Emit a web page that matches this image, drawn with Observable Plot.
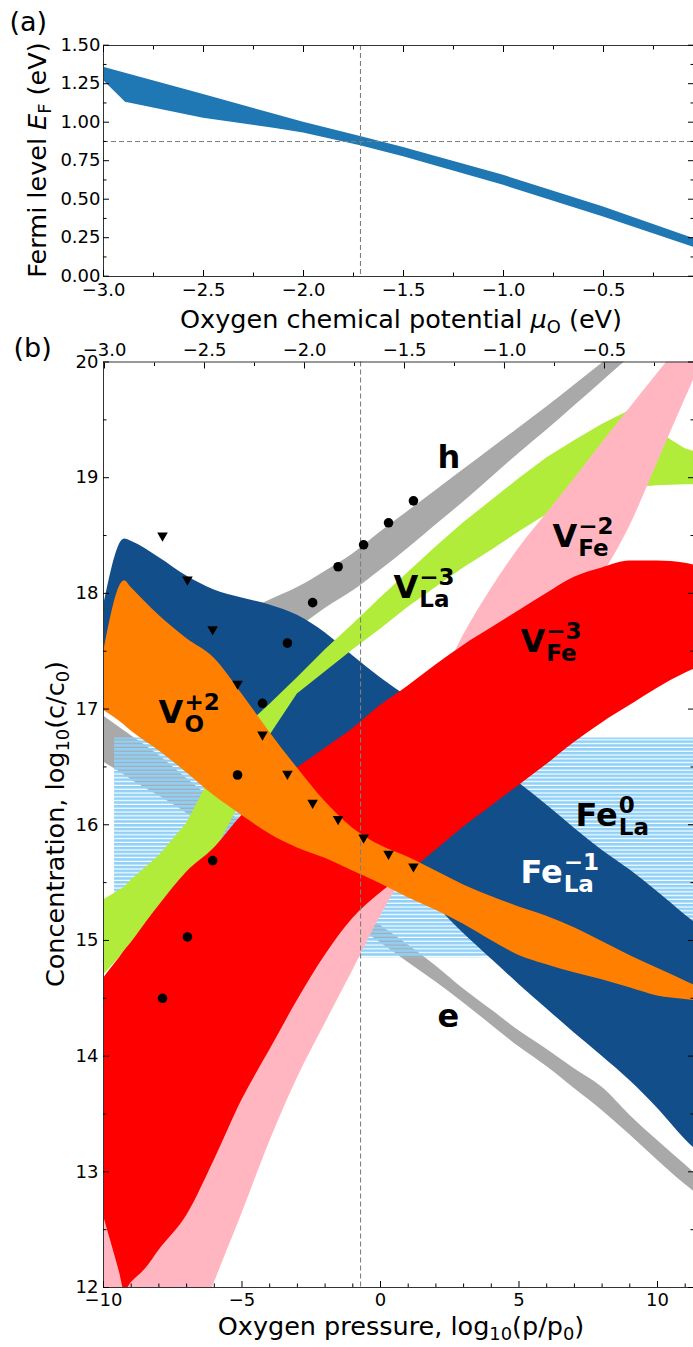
<!DOCTYPE html>
<html>
<head>
<meta charset="utf-8">
<script src="https://cdn.jsdelivr.net/npm/d3@7"></script>
<script src="https://cdn.jsdelivr.net/npm/@observablehq/plot@0.6"></script>
<style>
html,body{margin:0;padding:0;background:#fff;}
#page{position:relative;width:693px;height:1347px;overflow:hidden;background:#fff;}
#page svg{position:absolute;left:0;overflow:visible;}
</style>
</head>
<body>
<div id="page"></div>
<script>
// ---------------- Panel (a): Fermi level vs oxygen chemical potential ----------------
const muA    = [-3.0, -2.89, -2.5, -2.14, -2.0, -1.715, -1.5, -1.0, -0.5, -0.045];
const efHigh = [1.357, 1.318, 1.18, 1.05, 1.0, 0.907, 0.835, 0.655, 0.45, 0.243];
const efLow  = [1.27, 1.13, 1.025, 0.959, 0.93, 0.847, 0.775, 0.59, 0.385, 0.186];
const muRef = -1.715;
const efRef = 0.875;
const xTicksA = [-3.0, -2.5, -2.0, -1.5, -1.0, -0.5];
const xMinorA = [-2.75, -2.25, -1.75, -1.25, -0.75, -0.25];
const yTicksA = [0, 0.25, 0.5, 0.75, 1.0, 1.25, 1.5];
const yMinorA = [0.125, 0.375, 0.625, 0.875, 1.125, 1.375];

// ---------------- Panel (b): concentrations vs oxygen pressure ----------------
const logpGrid = [-10, -9.24, -9, -8, -7, -6, -5, -4, -3, -2, -1, 0, 1, 2, 3, 4, 5, 6, 7, 8, 9, 10, 11, 11.7];
// holes h
const hHigh = [17.38, 17.46, 17.49, 17.58, 17.66, 17.75, 17.83, 17.94, 18.05, 18.19, 18.34, 18.53, 18.71, 18.89, 19.07, 19.25, 19.43, 19.61, 19.80, 19.99, 20.19, 20.38, 20.57, 20.70];
const hLow  = [17.05, 17.12, 17.13, 17.23, 17.32, 17.40, 17.49, 17.59, 17.70, 17.87, 18.02, 18.20, 18.39, 18.59, 18.79, 19.00, 19.21, 19.41, 19.62, 19.83, 20.04, 20.25, 20.45, 20.59];
// electrons e
const eHigh = [16.94, 16.81, 16.77, 16.60, 16.40, 16.21, 16.02, 15.84, 15.65, 15.46, 15.28, 15.13, 14.96, 14.78, 14.58, 14.40, 14.22, 14.06, 13.89, 13.73, 13.49, 13.27, 13.06, 12.91];
const eLow  = [16.54, 16.43, 16.39, 16.25, 16.10, 15.92, 15.76, 15.60, 15.45, 15.30, 15.15, 14.98, 14.81, 14.64, 14.46, 14.27, 14.08, 13.91, 13.72, 13.53, 13.32, 13.10, 12.89, 12.76];
// Fe_La^0 (flat)
const fe0Logp = [-9.6, 11.7];
const fe0High = [16.75, 16.75];
const fe0Low  = [14.85, 14.85];
// Fe_La^-1
const fe1High = [17.88, 18.47, 18.45, 18.31, 18.15, 18.03, 17.96, 17.90, 17.81, 17.66, 17.46, 17.27, 17.10, 16.92, 16.73, 16.54, 16.36, 16.17, 15.97, 15.78, 15.61, 15.42, 15.22, 15.09];
const fe1Low  = [17.25, 17.16, 17.13, 17.03, 16.90, 16.77, 16.64, 16.51, 16.34, 16.17, 15.95, 15.73, 15.52, 15.30, 15.06, 14.84, 14.62, 14.41, 14.20, 14.00, 13.79, 13.55, 13.28, 13.12];
// V_La^-3
const vLaHigh = [15.35, 15.46, 15.52, 15.73, 16.01, 16.47, 16.82, 17.04, 17.27, 17.51, 17.73, 17.96, 18.18, 18.40, 18.61, 18.80, 18.99, 19.17, 19.32, 19.46, 19.58, 19.40, 19.25, 19.20];
const vLaLow  = [14.70, 14.90, 14.96, 15.24, 15.52, 15.76, 16.21, 16.77, 17.13, 17.32, 17.51, 17.69, 17.88, 18.05, 18.22, 18.37, 18.53, 18.68, 18.79, 18.86, 18.91, 18.93, 18.94, 18.94];
// V_Fe^-2
const vFe2High = [12.62, 12.80, 12.88, 13.31, 13.75, 14.18, 14.57, 14.96, 15.35, 15.71, 16.08, 16.44, 16.81, 17.16, 17.64, 18.04, 18.39, 18.69, 18.99, 19.30, 19.60, 19.90, 20.20, 20.42];
const vFe2Low  = [9.59, 10.06, 10.20, 10.81, 11.42, 12.04, 12.64, 13.26, 13.81, 14.28, 14.74, 15.21, 15.61, 15.96, 16.33, 16.69, 17.06, 17.41, 17.78, 18.15, 18.58, 19.13, 19.68, 20.06];
// V_Fe^-3 (own grid)
const vFe3Logp = [-10, -9.75, -9.42, -9.24, -9, -8.45, -8, -7, -6, -5, -4, -3, -2, -1, 0, 1, 2, 3, 4, 5, 6, 7, 8, 9, 10, 11, 11.7];
const vFe3High = [14.67, 14.75, 14.85, 14.91, 14.98, 15.16, 15.30, 15.59, 15.80, 16.08, 16.30, 16.49, 16.66, 16.83, 17.03, 17.20, 17.38, 17.55, 17.70, 17.85, 18.00, 18.14, 18.22, 18.28, 18.28, 18.26, 18.22];
const vFe3Low  = [12.62, 12.41, 12.13, 11.97, 12.04, 12.17, 12.32, 12.62, 13.10, 13.62, 14.05, 14.48, 14.87, 15.19, 15.41, 15.59, 15.78, 15.98, 16.16, 16.34, 16.52, 16.71, 16.88, 17.03, 17.18, 17.31, 17.38];
// V_O^+2
const vOHigh = [17.48, 18.11, 18.05, 17.81, 17.61, 17.44, 17.13, 16.80, 16.49, 16.20, 15.97, 15.82, 15.72, 15.60, 15.48, 15.38, 15.29, 15.21, 15.11, 14.99, 14.87, 14.76, 14.65, 14.57];
const vOLow  = [16.99, 16.86, 16.81, 16.64, 16.45, 16.25, 16.08, 15.92, 15.80, 15.71, 15.60, 15.49, 15.37, 15.26, 15.14, 15.00, 14.87, 14.79, 14.72, 14.66, 14.59, 14.52, 14.49, 14.47];
// experimental markers
const markLogp = [-7.87, -6.97, -6.06, -5.16, -4.26, -3.36, -2.45, -1.53, -0.61, 0.29, 1.19];
const triConc  = [18.49, 18.11, 17.68, 17.21, 16.77, 16.43, 16.18, 16.04, 15.88, 15.74, 15.63];
const dotConc  = [14.50, 15.03, 15.69, 16.43, 17.05, 17.57, 17.92, 18.23, 18.42, 18.61, 18.80];
const logpRef = -0.72;
// ticks
const yTicksB = [12, 13, 14, 15, 16, 17, 18, 19, 20];
const yMinorB = [12.5, 13.5, 14.5, 15.5, 16.5, 17.5, 18.5, 19.5];
const xTicksB = [-10, -5, 0, 5, 10];
const xMinorB = [-9, -8, -7, -6, -4, -3, -2, -1, 1, 2, 3, 4, 6, 7, 8, 9, 11];
const muTicksB = [-3.0, -2.5, -2.0, -1.5, -1.0, -0.5];
const muMinorB = [-2.75, -2.25, -1.75, -1.25, -0.75, -0.25];
// band labels
const bandLabels = [
  {base: "h", sup: "", sub: "", x: 2.06, y: 19.08, color: "black"},
  {base: "V", sup: "\u22123", sub: "La", x: 0.47, y: 17.96, color: "black"},
  {base: "V", sup: "\u22122", sub: "Fe", x: 6.21, y: 18.40, color: "black"},
  {base: "V", sup: "\u22123", sub: "Fe", x: 5.05, y: 17.49, color: "black"},
  {base: "V", sup: "+2", sub: "O", x: -8.01, y: 16.88, color: "black"},
  {base: "Fe", sup: "0", sub: "La", x: 7.04, y: 15.99, color: "black"},
  {base: "Fe", sup: "\u22121", sub: "La", x: 5.05, y: 15.50, color: "white"},
  {base: "e", sup: "", sub: "", x: 2.06, y: 14.25, color: "black"}
];

// ---------------- helpers ----------------
const FONT = "'DejaVu Sans', sans-serif";
const minus = s => String(s).replace("-", "\u2212");
const rows = (xs, lo, hi) => xs.map((x, i) => ({x, lo: lo[i], hi: hi[i]}));
const muToLogp = mu => -9.964 + 7.22 * (mu + 3);
const logpToMu = lp => (lp + 9.964) / 7.22 - 3;
const ctx = document.createElement("canvas").getContext("2d");
const textWidth = (s, font) => { ctx.font = font; return ctx.measureText(s).width; };
const blank = () => "";

const triDown = {
  draw(c, size) {
    const r = Math.sqrt(size / Math.PI);
    c.moveTo(-1.15 * r, -0.9 * r);
    c.lineTo(1.15 * r, -0.9 * r);
    c.lineTo(0, 1.1 * r);
    c.closePath();
  }
};

function rich(svg, parts, {x, y, rotate = 0, size = 25.5}) {
  const t = d3.select(svg).append("text")
    .attr("transform", `translate(${x},${y}) rotate(${rotate})`)
    .attr("text-anchor", "middle")
    .attr("font-family", FONT)
    .attr("font-size", size)
    .attr("fill", "black");
  let shift = 0;
  for (const [s, kind] of parts) {
    const ts = t.append("tspan").text(s);
    const target = kind === "sub" ? size * 0.2 : 0;
    if (target !== shift) { ts.attr("dy", target - shift); shift = target; }
    if (kind === "sub") ts.attr("font-size", size * 0.7);
    if (kind === "it") ts.attr("font-style", "italic");
  }
}

const page = document.getElementById("page");
const styleBase = {fontFamily: FONT, fontSize: "18px", color: "black", background: "transparent", overflow: "visible"};

// ---------------- Chart A ----------------
const dataA = muA.map((m, i) => ({mu: m, lo: efLow[i], hi: efHigh[i]}));
const chartA = Plot.plot({
  width: 693, height: 330,
  marginTop: 45, marginBottom: 54, marginLeft: 103, marginRight: 0,
  style: styleBase,
  x: {domain: [-3, -0.045], range: [103, 694], axis: null},
  y: {domain: [0, 1.5], range: [275.7, 44.7], axis: null},
  marks: [
    Plot.areaY(dataA, {x: "mu", y1: "lo", y2: "hi", fill: "#1f77b4", clip: true}),
    Plot.ruleX([muRef], {stroke: "#7f7f7f", strokeWidth: 1.1, strokeDasharray: "5,3"}),
    Plot.ruleY([efRef], {stroke: "#7f7f7f", strokeWidth: 1.1, strokeDasharray: "5,3"}),
    Plot.frame({stroke: "#333", strokeWidth: 1}),
    Plot.axisY(yTicksA, {anchor: "left", tickSize: -6, tickFormat: blank, label: null}),
    Plot.axisY(yMinorA, {anchor: "left", tickSize: -3.5, tickFormat: blank, label: null}),
    Plot.axisY(yTicksA, {anchor: "right", tickSize: -6, tickFormat: blank, label: null}),
    Plot.axisY(yMinorA, {anchor: "right", tickSize: -3.5, tickFormat: blank, label: null}),
    Plot.axisX(xTicksA, {anchor: "bottom", tickSize: -6, tickFormat: blank, label: null}),
    Plot.axisX(xMinorA, {anchor: "bottom", tickSize: -3.5, tickFormat: blank, label: null}),
    Plot.axisX(xTicksA, {anchor: "top", tickSize: -6, tickFormat: blank, label: null}),
    Plot.axisX(xMinorA, {anchor: "top", tickSize: -3.5, tickFormat: blank, label: null}),
    Plot.axisY(yTicksA, {anchor: "left", tickSize: 0, tickPadding: 3, tickFormat: d => d.toFixed(2), label: null}),
    Plot.axisX(xTicksA, {anchor: "bottom", tickSize: 0, tickPadding: 7, tickFormat: d => minus(d.toFixed(1)), label: null}),
    Plot.text(["(a)"], {frameAnchor: "top-left", dx: -94, dy: -15, lineAnchor: "bottom", textAnchor: "start", fontSize: 27, text: d => d})
  ]
});
chartA.style.top = "0px";
page.appendChild(chartA);
rich(chartA, [["Oxygen chemical potential "], ["\u03bc", "it"], ["O", "sub"], [" (eV)"]], {x: 401, y: 328});
rich(chartA, [["Fermi level "], ["E", "it"], ["F", "sub"], [" (eV)"]], {x: 46, y: 160, rotate: -90});

// ---------------- Chart B ----------------
const TOP = 330;
const stripesDefs = () => {
  const ns = "http://www.w3.org/2000/svg";
  const defs = document.createElementNS(ns, "defs");
  defs.innerHTML = '<pattern id="fe0stripes" patternUnits="userSpaceOnUse" width="10" height="3.8"><rect width="10" height="2.6" fill="#8fd0f8"></rect></pattern>';
  return defs;
};
const area = (data, fill, curve = "monotone-x") => Plot.areaY(data, {x: "x", y1: "lo", y2: "hi", fill, clip: true, curve});
const labelMarks = bandLabels.flatMap(d => {
  const w = textWidth(d.base, `bold 32px ${FONT}`);
  const common = {x: "x", y: "y", textAnchor: "start", lineAnchor: "bottom", fontWeight: "bold", fill: d.color};
  const out = [Plot.text([d], {...common, text: "base", fontSize: 32})];
  if (d.sup) out.push(Plot.text([d], {...common, text: "sup", fontSize: 23, dx: w + 1, dy: -13}));
  if (d.sub) out.push(Plot.text([d], {...common, text: "sub", fontSize: 23, dx: w + 1, dy: 9}));
  return out;
});
const chartB = Plot.plot({
  width: 693, height: 1347 - TOP,
  marginTop: 31.5, marginBottom: 60, marginLeft: 103, marginRight: 0,
  style: styleBase,
  x: {domain: [-10, 11.336], range: [103, 694], axis: null},
  y: {domain: [12, 20], range: [1287 - TOP, 361.5 - TOP], axis: null},
  marks: [
    stripesDefs,
    area(rows(logpGrid, hLow, hHigh), "#a9a9a9"),
    area(rows(logpGrid, eLow, eHigh), "#a9a9a9"),
    area(rows(fe0Logp, fe0Low, fe0High), "url(#fe0stripes)", "linear"),
    area(rows(logpGrid, fe1Low, fe1High), "#124e8a"),
    area(rows(logpGrid, vLaLow, vLaHigh), "#b2ec3a", "linear"),
    area(rows(logpGrid, vFe2Low, vFe2High), "#ffb6c1"),
    area(rows(vFe3Logp, vFe3Low, vFe3High), "#ff0000"),
    area(rows(logpGrid, vOLow, vOHigh), "#ff7f00"),
    Plot.ruleX([logpRef], {stroke: "#7f7f7f", strokeWidth: 1.1, strokeDasharray: "5,3"}),
    Plot.dot(markLogp.map((x, i) => ({x, y: dotConc[i]})), {x: "x", y: "y", r: 4.8, fill: "black", stroke: null}),
    Plot.dot(markLogp.map((x, i) => ({x, y: triConc[i]})), {x: "x", y: "y", r: 4.6, symbol: triDown, fill: "black", stroke: null}),
    Plot.frame({stroke: "#333", strokeWidth: 1}),
    Plot.axisY(yTicksB, {anchor: "left", tickSize: -6, tickFormat: blank, label: null}),
    Plot.axisY(yMinorB, {anchor: "left", tickSize: -3.5, tickFormat: blank, label: null}),
    Plot.axisY(yTicksB, {anchor: "right", tickSize: -6, tickFormat: blank, label: null}),
    Plot.axisY(yMinorB, {anchor: "right", tickSize: -3.5, tickFormat: blank, label: null}),
    Plot.axisX(xTicksB, {anchor: "bottom", tickSize: -6, tickFormat: blank, label: null}),
    Plot.axisX(xMinorB, {anchor: "bottom", tickSize: -3.5, tickFormat: blank, label: null}),
    Plot.axisX(muTicksB.map(muToLogp), {anchor: "top", tickSize: -6, tickFormat: blank, label: null}),
    Plot.axisX(muMinorB.map(muToLogp), {anchor: "top", tickSize: -3.5, tickFormat: blank, label: null}),
    Plot.axisY(yTicksB, {anchor: "left", tickSize: 0, tickPadding: 5, tickFormat: d => String(d), label: null}),
    Plot.axisX(xTicksB, {anchor: "bottom", tickSize: 0, tickPadding: 6, tickFormat: d => minus(d), label: null}),
    Plot.axisX(muTicksB.map(muToLogp), {anchor: "top", tickSize: 0, tickPadding: 6.5, tickFormat: d => minus(logpToMu(d).toFixed(1)), label: null}),
    ...labelMarks,
    Plot.text(["(b)"], {frameAnchor: "top-left", dx: -90, dy: -5.5, lineAnchor: "bottom", textAnchor: "start", fontSize: 27, text: d => d})
  ]
});
chartB.style.top = TOP + "px";
page.appendChild(chartB);
rich(chartB, [["Oxygen pressure, log"], ["10", "sub"], ["(p/p"], ["0", "sub"], [")"]], {x: 401, y: 1335 - TOP});
rich(chartB, [["Concentration, log"], ["10", "sub"], ["(c/c"], ["0", "sub"], [")"]], {x: 64, y: 824 - TOP, rotate: -90});
</script>
</body>
</html>
